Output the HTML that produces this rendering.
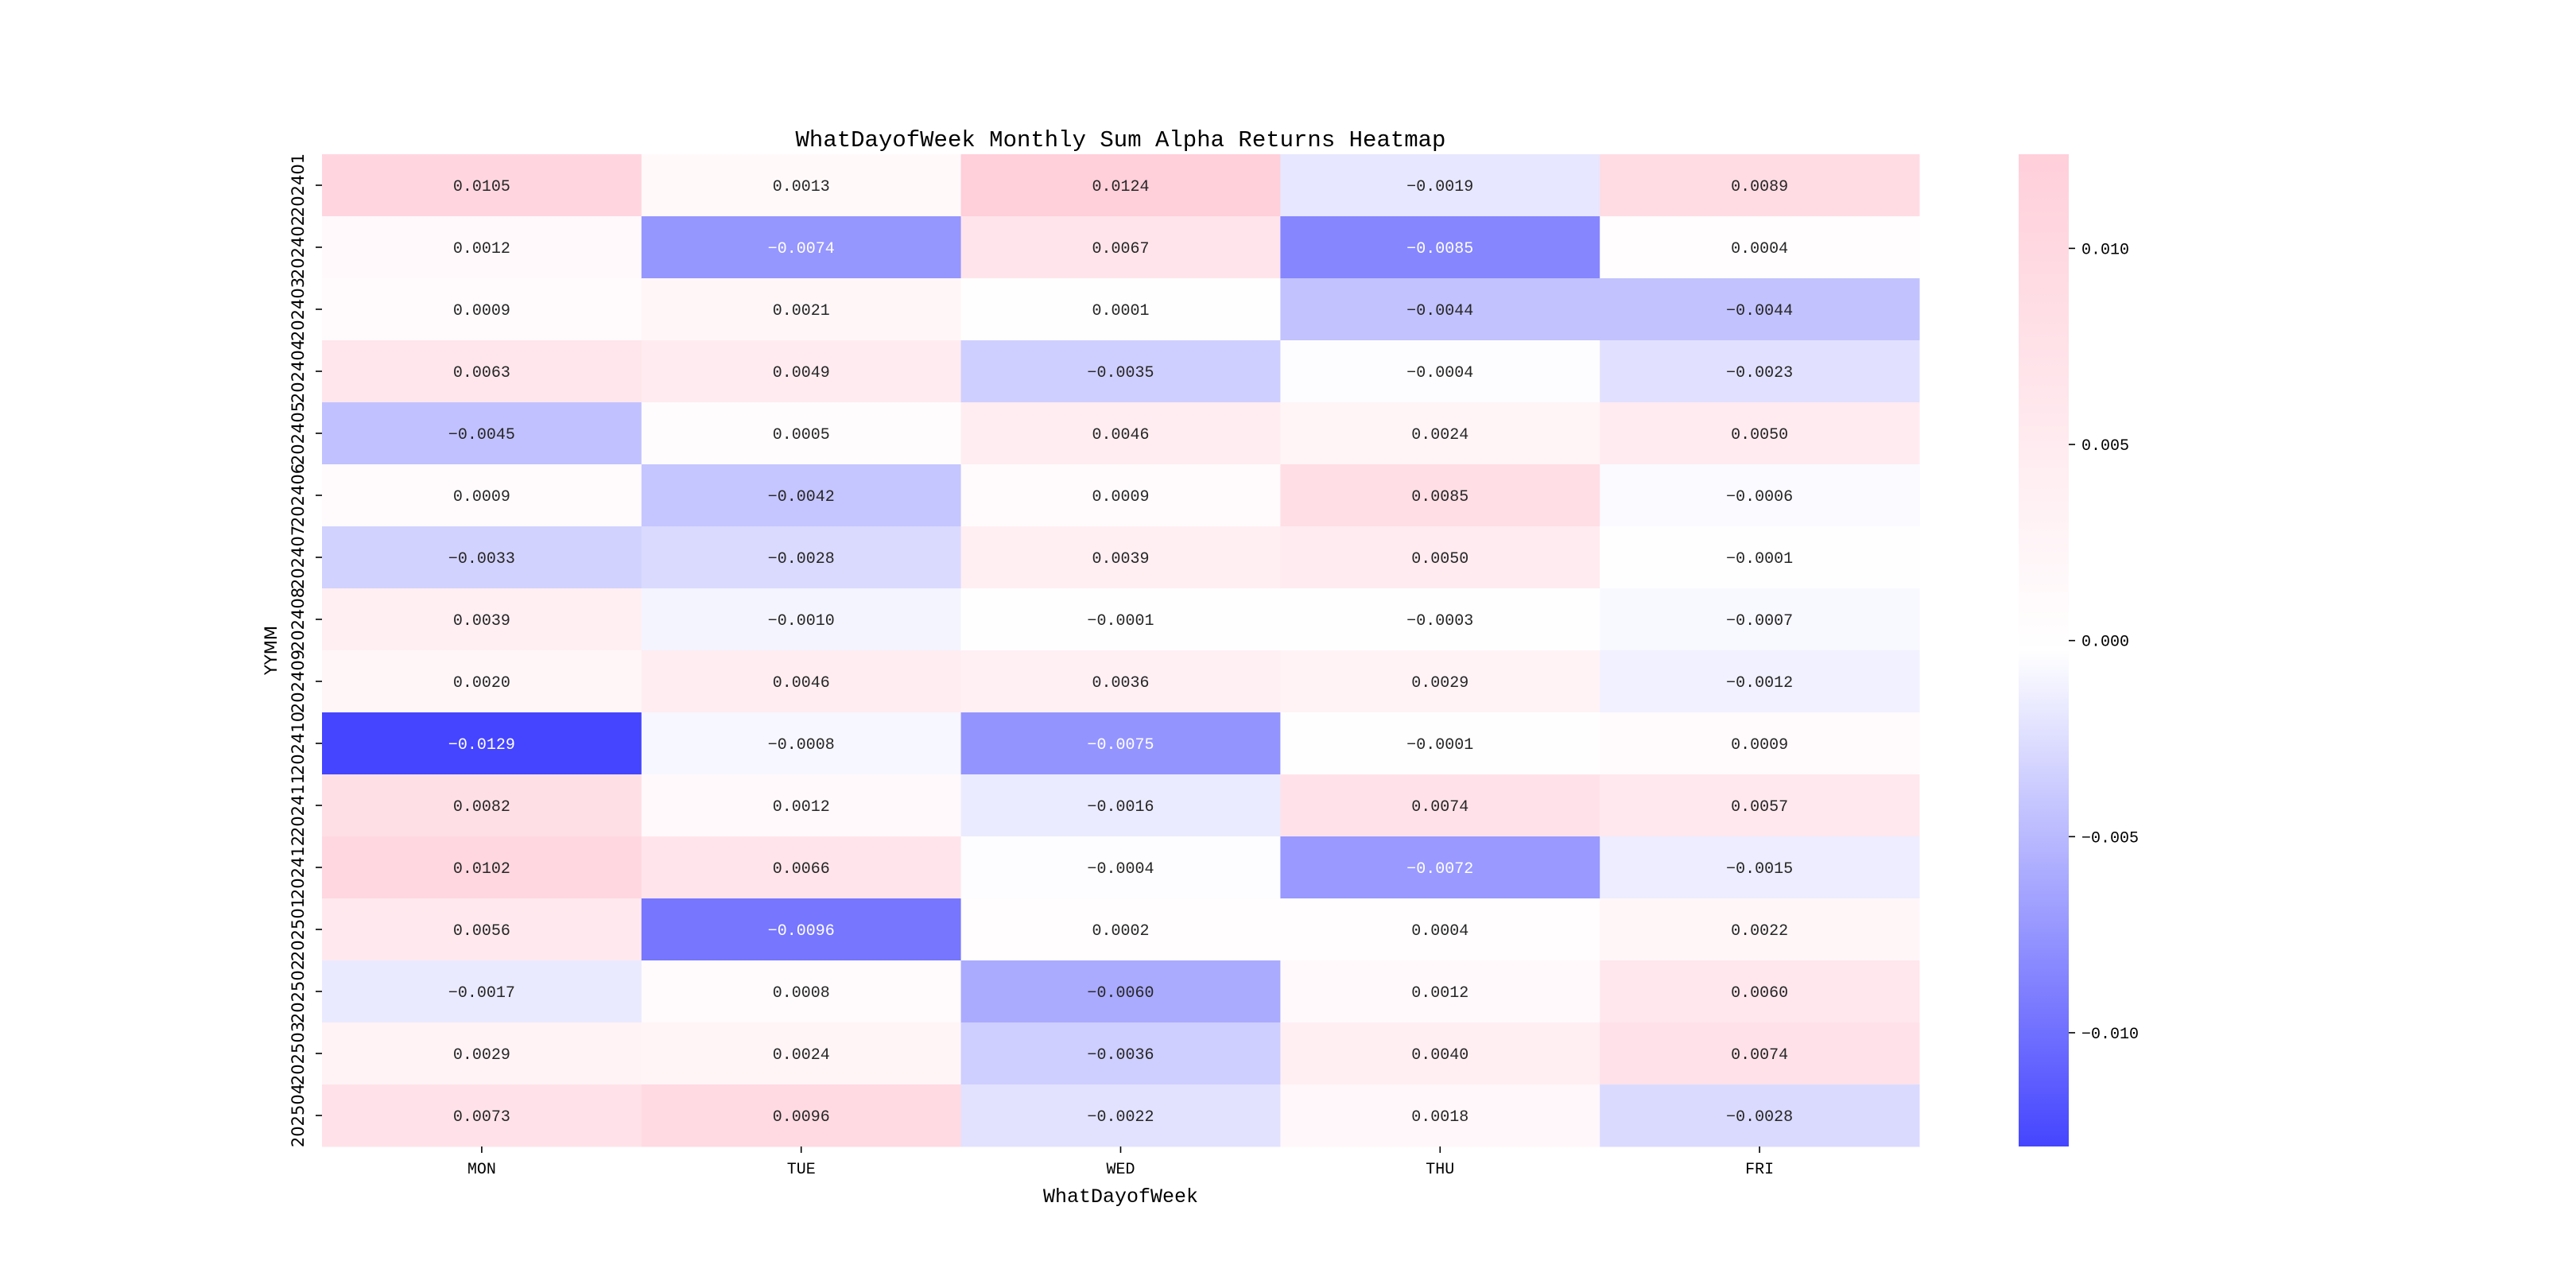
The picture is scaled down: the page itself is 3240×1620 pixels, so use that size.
<!DOCTYPE html>
<html><head><meta charset="utf-8"><style>
html,body{margin:0;padding:0;background:#fff;}
svg{display:block;}
.mono{font-family:"Liberation Mono","WenQuanYi Zen Hei",monospace;}
.sans{font-family:"DejaVu Sans","Liberation Sans",sans-serif;}
</style></head><body>
<svg id="chart" width="3240" height="1620" xmlns="http://www.w3.org/2000/svg">
<defs>
<linearGradient id="cbgrad" x1="0" y1="1" x2="0" y2="0">
<stop offset="0" stop-color="#4545ff"/>
<stop offset="0.5" stop-color="#ffffff"/>
<stop offset="1" stop-color="#ffcfda"/>
</linearGradient>
</defs>
<text class="mono" x="1409.5" y="184" font-size="29" text-anchor="middle" fill="#000">WhatDayofWeek Monthly Sum Alpha Returns Heatmap</text>
<g id="cells"></g>
<g id="xaxis"></g>
<g id="yaxis"></g>
<text class="mono" x="1409.5" y="1512" font-size="25" text-anchor="middle" fill="#000">WhatDayofWeek</text>
<text class="sans" x="0" y="0" font-size="21" text-anchor="middle" fill="#000" transform="translate(348,818) rotate(-90)">YYMM</text>
<rect x="2539" y="194" width="63" height="1248" fill="url(#cbgrad)"/>
<g id="cbticks"></g>
</svg>
<script>
const days = ["MON","TUE","WED","THU","FRI"];
const months = ["202401","202402","202403","202404","202405","202406","202407","202408","202409","202410","202411","202412","202501","202502","202503","202504"];
const valMON = [0.0105,0.0012,0.0009,0.0063,-0.0045,0.0009,-0.0033,0.0039,0.0020,-0.0129,0.0082,0.0102,0.0056,-0.0017,0.0029,0.0073];
const valTUE = [0.0013,-0.0074,0.0021,0.0049,0.0005,-0.0042,-0.0028,-0.0010,0.0046,-0.0008,0.0012,0.0066,-0.0096,0.0008,0.0024,0.0096];
const valWED = [0.0124,0.0067,0.0001,-0.0035,0.0046,0.0009,0.0039,-0.0001,0.0036,-0.0075,-0.0016,-0.0004,0.0002,-0.0060,-0.0036,-0.0022];
const valTHU = [-0.0019,-0.0085,-0.0044,-0.0004,0.0024,0.0085,0.0050,-0.0003,0.0029,-0.0001,0.0074,-0.0072,0.0004,0.0012,0.0040,0.0018];
const valFRI = [0.0089,0.0004,-0.0044,-0.0023,0.0050,-0.0006,-0.0001,-0.0007,-0.0012,0.0009,0.0057,-0.0015,0.0022,0.0060,0.0074,-0.0028];
const cbTicks = [0.010,0.005,0.000,-0.005,-0.010];

const series = [valMON,valTUE,valWED,valTHU,valFRI];
const NS = "http://www.w3.org/2000/svg";
const L=405,R=2414,T=194,B=1442;
const vmin=Math.min(...series.flat()), vmax=Math.max(...series.flat());
const cw=(R-L)/days.length, rh=(B-T)/months.length;
const xPos=i=>L+i*cw, yPos=j=>T+j*rh;
const cbY=v=>B-(v-vmin)/(vmax-vmin)*(B-T);
const lo=[0x45,0x45,0xff], mid=[255,255,255], hi=[0xff,0xcf,0xda];
function cmap(v){
  let t=(v-vmin)/(vmax-vmin); t=Math.max(0,Math.min(1,t));
  let a,b,u;
  if(t<0.5){a=lo;b=mid;u=t/0.5;}else{a=mid;b=hi;u=(t-0.5)/0.5;}
  return [0,1,2].map(k=>Math.round(a[k]+(b[k]-a[k])*u));
}
function lum(c){
  const f=x=>{x/=255;return x<=0.03928?x/12.92:Math.pow((x+0.055)/1.055,2.4);};
  return 0.2126*f(c[0])+0.7152*f(c[1])+0.0722*f(c[2]);
}
function fmt(v,d){const s=Math.abs(v).toFixed(d);return (v<0?"\u2212":"")+s;}
function mk(tag,attrs,parent){const e=document.createElementNS(NS,tag);for(const k in attrs)e.setAttribute(k,attrs[k]);parent.appendChild(e);return e;}

const cells=document.getElementById('cells');
series.forEach((arr,i)=>{
  arr.forEach((v,j)=>{
    const c=cmap(v);
    const r=mk('rect',{x:xPos(i),y:yPos(j),width:cw+0.5,height:rh+0.5,fill:`rgb(${c[0]},${c[1]},${c[2]})`},cells);
    
    
    const t=mk('text',{x:xPos(i)+cw/2,y:yPos(j)+rh/2+7,'font-size':20,'text-anchor':'middle',fill:lum(c)>0.408?'#262626':'#ffffff','class':'mono'},cells);
    
    
    t.textContent=fmt(v,4);
  });
});
const xa=document.getElementById('xaxis');
days.forEach((d,i)=>{
  const cx=xPos(i)+cw/2;
  const tk=mk('line',{x1:cx,x2:cx,y1:B,y2:B+8,stroke:'#000','stroke-width':1.6},xa);
  
  
  const t=mk('text',{x:cx,y:B+34,'font-size':20,'text-anchor':'middle',fill:'#000','class':'mono'},xa);
  
  
  t.textContent=d;
});
const ya=document.getElementById('yaxis');
months.forEach((m,j)=>{
  const cy=yPos(j)+rh/2;
  const tk=mk('line',{x1:L-8,x2:L,y1:cy,y2:cy,stroke:'#000','stroke-width':1.6},ya);
  
  
  const t=mk('text',{x:0,y:0,'font-size':21,'text-anchor':'middle',fill:'#000','class':'sans',transform:`translate(382,${cy}) rotate(-90)`},ya);
  
  
  t.textContent=m;
});
const cb=document.getElementById('cbticks');
cbTicks.forEach(v=>{
  const y=cbY(v);
  const tk=mk('line',{x1:2602,x2:2610,y1:y,y2:y,stroke:'#000','stroke-width':1.6},cb);
  
  
  const t=mk('text',{x:2618,y:y+7,'font-size':20,fill:'#000','class':'mono'},cb);
  
  
  t.textContent=fmt(v,3);
});
</script>
</body></html>
